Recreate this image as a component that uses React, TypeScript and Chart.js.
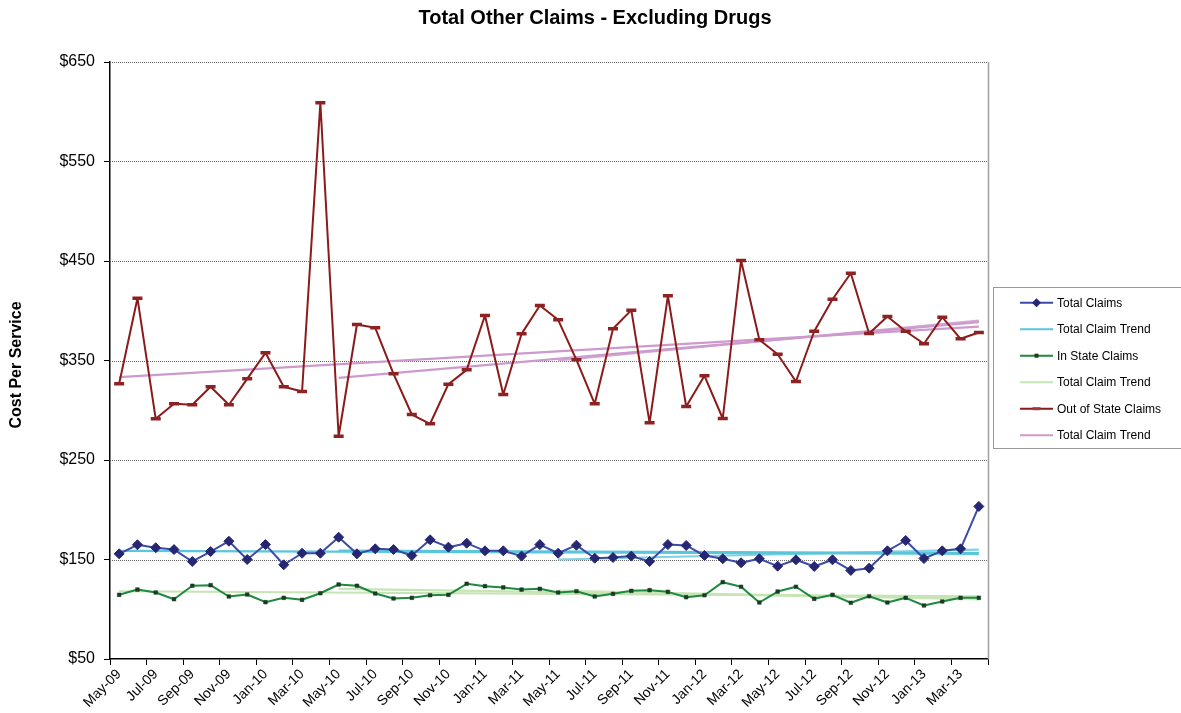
import React, { useEffect, useRef } from 'react';
import { Chart, registerables } from 'chart.js';

Chart.register(...registerables);

const FONT = '"Liberation Sans", Arial, Helvetica, sans-serif';
const TITLE = 'Total Other Claims - Excluding Drugs';
const Y_TITLE = 'Cost Per Service';

const months = [
  'May-09', 'Jun-09', 'Jul-09', 'Aug-09', 'Sep-09', 'Oct-09', 'Nov-09', 'Dec-09',
  'Jan-10', 'Feb-10', 'Mar-10', 'Apr-10', 'May-10', 'Jun-10', 'Jul-10', 'Aug-10',
  'Sep-10', 'Oct-10', 'Nov-10', 'Dec-10', 'Jan-11', 'Feb-11', 'Mar-11', 'Apr-11',
  'May-11', 'Jun-11', 'Jul-11', 'Aug-11', 'Sep-11', 'Oct-11', 'Nov-11', 'Dec-11',
  'Jan-12', 'Feb-12', 'Mar-12', 'Apr-12', 'May-12', 'Jun-12', 'Jul-12', 'Aug-12',
  'Sep-12', 'Oct-12', 'Nov-12', 'Dec-12', 'Jan-13', 'Feb-13', 'Mar-13', 'Apr-13',
];

const totalClaims = [
  155.7, 164.8, 161.8, 160, 148, 158, 168.4, 150, 165, 144.7,
  156.3, 156.3, 172.4, 155.7, 160.7, 160, 154, 169.8, 162.4, 166.4,
  158.7, 158.7, 153.4, 165, 156.3, 164.4, 151.3, 152, 153.4, 148,
  165, 164.1, 154, 150.7, 146.7, 150.7, 143.3, 149.7, 143, 149.7,
  139, 141.3, 158.7, 169.1, 151, 158.7, 160.7, 203.3,
];

const inStateClaims = [
  114.5, 119.8, 116.8, 110.1, 123.6, 124.2, 112.8, 114.8, 107.1, 111.5,
  109.5, 116.1, 124.9, 123.6, 115.8, 110.8, 111.5, 114.1, 114.5, 125.6,
  123.2, 121.9, 119.8, 120.5, 116.8, 118.1, 112.8, 115.5, 118.5, 119.2,
  117.5, 112.1, 114.1, 127.2, 122.6, 106.8, 117.8, 122.6, 110.5, 114.5,
  106.5, 113.1, 106.8, 111.5, 103.8, 107.8, 111.5, 111.5,
];

const outOfStateClaims = [
  326.6, 412.6, 291.4, 306.5, 305.5, 323.6, 305.5, 331.6, 357.7, 323.6,
  318.8, 609, 273.9, 386.2, 382.9, 336.6, 295.7, 286.4, 326.2, 340.6,
  395.2, 315.8, 376.8, 405.3, 390.9, 350.7, 306.5, 381.9, 400.6, 287.4,
  415, 303.8, 334.6, 291.7, 450.5, 370.8, 356.3, 328.9, 379.4, 411.6,
  437.7, 377.1, 394.2, 379.4, 366.8, 393.5, 371.8, 378.1,
];

// Trend lines: [start month, end month] and [start value, end value]
const trendStarts = ['May-09', 'May-10', 'May-11'];
const trendEnd = 'Apr-13';
const totalTrendValues = [[158.7, 155.7], [159, 156.5], [150, 160]];
const inStateTrendValues = [[118.1, 113], [120.5, 111], [118.8, 110]];
const outOfStateTrendValues = [[333.2, 384], [332.6, 388.5], [350, 390]];

const yTicks = [50, 150, 250, 350, 450, 550, 650];

const legendItems = [
  { label: 'Total Claims', color: '#3C4BA6', marker: 'diamond', markerColor: '#262673' },
  { label: 'Total Claim Trend', color: '#5BC5DB', marker: 'none', markerColor: '' },
  { label: 'In State Claims', color: '#1E8A3E', marker: 'square', markerColor: '#1C3A24' },
  { label: 'Total Claim Trend', color: '#C6E4B4', marker: 'none', markerColor: '' },
  { label: 'Out of State Claims', color: '#8B1A1A', marker: 'dash', markerColor: '#9E3A3A' },
  { label: 'Total Claim Trend', color: '#CC9ACC', marker: 'none', markerColor: '' },
];

function trendData(values: number[][]) {
  return values.map((v, k) => [
    { x: trendStarts[k], y: v[0] },
    { x: trendEnd, y: v[1] },
  ]);
}

const overlayPlugin = {
  id: 'overlay',
  beforeDatasetsDraw(chart: any) {
    const ctx = chart.ctx as CanvasRenderingContext2D;
    const a = chart.chartArea;
    const ys = chart.scales.y;
    ctx.save();
    ctx.strokeStyle = '#6a6a6a';
    ctx.lineWidth = 1;
    ctx.setLineDash([1, 1]);
    yTicks.slice(1).forEach((v) => {
      const py = Math.round(ys.getPixelForValue(v)) + 0.5;
      ctx.beginPath();
      ctx.moveTo(a.left, py);
      ctx.lineTo(a.right, py);
      ctx.stroke();
    });
    ctx.restore();
  },
  afterDraw(chart: any) {
    const ctx = chart.ctx as CanvasRenderingContext2D;
    const a = chart.chartArea;
    ctx.save();
    // right frame line
    ctx.strokeStyle = '#a0a0a0';
    ctx.lineWidth = 1.5;
    ctx.beginPath();
    ctx.moveTo(a.right + 0.5, a.top);
    ctx.lineTo(a.right + 0.5, a.bottom);
    ctx.stroke();

    // title
    ctx.fillStyle = '#000';
    ctx.font = `bold 20px ${FONT}`;
    ctx.textAlign = 'center';
    ctx.textBaseline = 'middle';
    ctx.fillText(TITLE, 595, 18);

    // y axis title
    ctx.save();
    ctx.translate(17, 365);
    ctx.rotate(-Math.PI / 2);
    ctx.font = `bold 16px ${FONT}`;
    ctx.fillText(Y_TITLE, 0, 0);
    ctx.restore();

    // legend
    ctx.strokeStyle = '#9a9a9a';
    ctx.lineWidth = 1;
    ctx.strokeRect(993.5, 287.5, 200, 161);
    ctx.font = `12px ${FONT}`;
    ctx.textAlign = 'left';
    legendItems.forEach((it, k) => {
      const y = 302.7 + k * 26.5;
      ctx.strokeStyle = it.color;
      ctx.lineWidth = 2;
      ctx.beginPath();
      ctx.moveTo(1020, y);
      ctx.lineTo(1053, y);
      ctx.stroke();
      const cx = 1036.5;
      if (it.marker === 'diamond') {
        ctx.fillStyle = it.markerColor;
        ctx.beginPath();
        ctx.moveTo(cx, y - 4.5);
        ctx.lineTo(cx + 4.5, y);
        ctx.lineTo(cx, y + 4.5);
        ctx.lineTo(cx - 4.5, y);
        ctx.closePath();
        ctx.fill();
      } else if (it.marker === 'square') {
        ctx.fillStyle = it.markerColor;
        ctx.fillRect(cx - 2, y - 2, 4, 4);
      } else if (it.marker === 'dash') {
        ctx.fillStyle = it.markerColor;
        ctx.fillRect(cx - 4, y - 1.5, 8, 3);
      }
      ctx.fillStyle = '#000';
      ctx.fillText(it.label, 1057, y + 0.5);
    });
    ctx.restore();
  },
};

export default function App() {
  const canvasRef = useRef<HTMLCanvasElement | null>(null);

  useEffect(() => {
    if (!canvasRef.current) return;
    const [tA, tB, tC] = trendData(totalTrendValues);
    const [iA, iB, iC] = trendData(inStateTrendValues);
    const [oA, oB, oC] = trendData(outOfStateTrendValues);
    const trendStyle = (color: string) => ({
      borderColor: color,
      backgroundColor: color,
      borderWidth: 2.2,
      pointRadius: 0,
      fill: false,
      tension: 0,
    });

    const chart = new Chart(canvasRef.current, {
      type: 'line',
      data: {
        labels: months,
        datasets: [
          {
            label: 'Total Claims',
            data: totalClaims,
            borderColor: '#3C4BA6',
            backgroundColor: '#262673',
            borderWidth: 2,
            borderJoinStyle: 'round',
            pointStyle: 'rectRot',
            pointRadius: 5,
            pointBorderWidth: 1,
            pointBorderColor: '#262673',
            pointBackgroundColor: '#262673',
            tension: 0,
          },
          {
            label: 'In State Claims',
            data: inStateClaims,
            borderColor: '#1E8A3E',
            backgroundColor: '#1C3A24',
            borderWidth: 2,
            borderJoinStyle: 'round',
            pointStyle: 'rect',
            pointRadius: 2.6,
            pointBorderWidth: 0.5,
            pointBorderColor: '#1C3A24',
            pointBackgroundColor: '#1C3A24',
            tension: 0,
          },
          {
            label: 'Out of State Claims',
            data: outOfStateClaims,
            borderColor: '#8B1A1A',
            backgroundColor: '#8B1A1A',
            borderWidth: 2,
            borderJoinStyle: 'round',
            pointStyle: 'line',
            pointRadius: 5,
            pointBorderWidth: 3.5,
            pointBorderColor: '#8E2222',
            tension: 0,
          },
          { label: 'Total Claim Trend', data: tA, ...trendStyle('#5BC5DB') },
          { label: 'Total Claim Trend b', data: tB, ...trendStyle('#5BC5DB') },
          { label: 'Total Claim Trend c', data: tC, ...trendStyle('#7FD3E4') },
          { label: 'In State Trend', data: iA, ...trendStyle('#C6E4B4') },
          { label: 'In State Trend b', data: iB, ...trendStyle('#C6E4B4') },
          { label: 'In State Trend c', data: iC, ...trendStyle('#D2EAC4') },
          { label: 'Out Trend', data: oA, ...trendStyle('#CC9ACC') },
          { label: 'Out Trend b', data: oB, ...trendStyle('#CC9ACC') },
          { label: 'Out Trend c', data: oC, ...trendStyle('#D4A8D4') },
        ] as any,
      },
      options: {
        animation: false,
        responsive: true,
        maintainAspectRatio: false,
        layout: { padding: { top: 62, right: 193, bottom: 0, left: 0 } },
        plugins: {
          legend: { display: false },
          title: { display: false },
          tooltip: { enabled: false },
        },
        scales: {
          x: {
            type: 'category',
            offset: true,
            afterFit: (axis: any) => {
              axis.height = 54;
            },
            grid: {
              offset: true,
              drawOnChartArea: false,
              drawTicks: true,
              tickLength: 6,
              color: (c: any) => (c.index === undefined || c.index % 2 === 0 ? '#000' : 'rgba(0,0,0,0)'),
              tickColor: (c: any) => (c.index === undefined || c.index % 2 === 0 ? '#000' : 'rgba(0,0,0,0)'),
            },
            border: { color: '#000', width: 1.5 },
            ticks: {
              autoSkip: false,
              maxRotation: 45,
              minRotation: 45,
              padding: 1,
              color: '#000',
              font: { family: FONT, size: 14 },
              callback: (_v: any, i: number) => (i % 2 === 0 ? months[i] : ''),
            },
          },
          y: {
            min: yTicks[0],
            max: yTicks[yTicks.length - 1],
            afterFit: (axis: any) => {
              axis.width = 110;
            },
            afterBuildTicks: (axis: any) => {
              axis.ticks = yTicks.map((v) => ({ value: v }));
            },
            grid: {
              drawOnChartArea: false,
              color: '#000',
              tickColor: '#000',
              tickLength: 6,
              drawTicks: true,
            },
            border: { color: '#000', width: 1.5 },
            ticks: {
              color: '#000',
              padding: 9,
              font: { family: FONT, size: 16 },
              callback: (v: any) => '$' + v,
            },
          },
        },
      },
      plugins: [overlayPlugin],
    });
    return () => chart.destroy();
  }, []);

  return (
    <div style={{ position: 'absolute', left: 0, top: 0, width: 1181, height: 713 }}>
      <canvas ref={canvasRef} />
    </div>
  );
}
